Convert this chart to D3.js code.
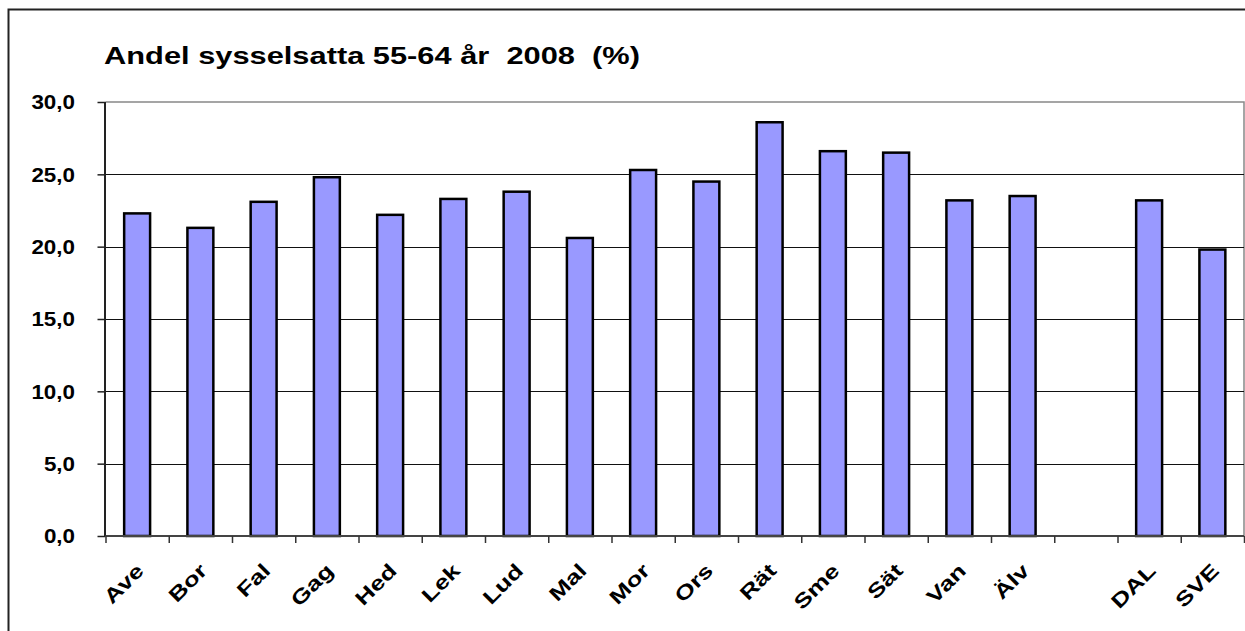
<!DOCTYPE html>
<html>
<head>
<meta charset="utf-8">
<script src="https://cdn.jsdelivr.net/npm/d3@7"></script>
<style>
  html, body { margin: 0; padding: 0; background: #fff; }
  svg { display: block; }
  text { font-family: "Liberation Sans", Arial, sans-serif; fill: #000; }
</style>
</head>
<body>
<svg id="chart" width="1245" height="631"></svg>
<script>
const categories = ["Ave","Bor","Fal","Gag","Hed","Lek","Lud","Mal","Mor","Ors","Rät","Sme","Sät","Van","Älv","","DAL","SVE"];
const values = [22.3,21.3,23.1,24.8,22.2,23.3,23.8,20.6,25.3,24.5,28.6,26.6,26.5,23.2,23.5,null,23.2,19.8];
const yTicks = [0,5,10,15,20,25,30];
const yTickLabels = ["0,0","5,0","10,0","15,0","20,0","25,0","30,0"];
const title = "Andel sysselsatta 55-64 år  2008  (%)";

const W = 1245, H = 631;
const plot = {left: 105.5, right: 1244, top: 102, bottom: 536};

const svg = d3.select("#chart");

// outer frame
svg.append("rect")
  .attr("x", 8.5).attr("y", 9.5)
  .attr("width", 1260).attr("height", 700)
  .attr("fill", "none").attr("stroke", "#222").attr("stroke-width", 2);

const x = d3.scaleBand().domain(categories).range([plot.left, plot.right]).padding(0);
const xIdx = d3.scaleLinear().domain([0, categories.length]).range([plot.left, plot.right]);
const y = d3.scaleLinear().domain([0, 30]).range([plot.bottom, plot.top]);

// plot area frame (top & right)
svg.append("path")
  .attr("d", `M${plot.left},${plot.top}H${plot.right}V${plot.bottom}`)
  .attr("fill", "none").attr("stroke", "#888").attr("stroke-width", 1.5);

// gridlines
svg.append("g")
  .selectAll("line")
  .data(yTicks.filter(t => t > 0 && t < 30))
  .join("line")
  .attr("x1", plot.left).attr("x2", plot.right)
  .attr("y1", d => Math.round(y(d)) + 0.5).attr("y2", d => Math.round(y(d)) + 0.5)
  .attr("stroke", "#111").attr("stroke-width", 1.2);

// bars
const barW = x.bandwidth() * 0.41;
svg.append("g")
  .selectAll("rect")
  .data(categories.map((c, i) => ({c, v: values[i]})).filter(d => d.v != null))
  .join("rect")
  .attr("x", d => x(d.c) + (x.bandwidth() - barW) / 2)
  .attr("y", d => y(d.v))
  .attr("width", barW)
  .attr("height", d => y(0) - y(d.v))
  .attr("fill", "#9999FF")
  .attr("stroke", "#000")
  .attr("stroke-width", 2.5);

// y axis
const yAxis = d3.axisLeft(y)
  .tickValues(yTicks)
  .tickSize(8)
  .tickFormat((d, i) => "");
const gy = svg.append("g").attr("transform", `translate(${plot.left},0)`).call(yAxis);
gy.select(".domain").attr("stroke", "#222").attr("stroke-width", 2).attr("d", `M-0.5,${plot.top}V${plot.bottom}`);
gy.selectAll(".tick line").attr("stroke", "#222").attr("stroke-width", 1.5);

svg.append("g")
  .selectAll("text")
  .data(yTicks)
  .join("text")
  .attr("transform", d => `translate(75,${y(d)}) scale(1.12,1)`)
  .attr("text-anchor", "end")
  .attr("dy", "0.36em")
  .attr("font-size", 20)
  .attr("font-weight", "bold")
  .text((d, i) => yTickLabels[i]);

// x axis with ticks on band boundaries
const xAxis = d3.axisBottom(xIdx)
  .tickValues(d3.range(0, categories.length + 1))
  .tickSize(7)
  .tickFormat("");
const gx = svg.append("g").attr("transform", `translate(0,${plot.bottom})`).call(xAxis);
gx.select(".domain").attr("stroke", "#444").attr("stroke-width", 2).attr("d", `M${plot.left},0H${plot.right}`);
gx.selectAll(".tick line").attr("stroke", "#333").attr("stroke-width", 1.5);

// x labels
svg.append("g")
  .selectAll("text")
  .data(categories)
  .join("text")
  .attr("transform", d => `translate(${x(d) + x.bandwidth() / 2 + 3},567) rotate(-45) scale(1.3,1)`)
  .attr("text-anchor", "end")
  .attr("dy", "0.35em")
  .attr("font-size", 20)
  .attr("font-weight", "bold")
  .text(d => d);

// title
svg.append("text")
  .attr("x", 104).attr("y", 64)
  .attr("font-size", 24)
  .attr("font-weight", "bold")
  .attr("textLength", 536)
  .attr("lengthAdjust", "spacingAndGlyphs")
  .style("white-space", "pre")
  .text(title);
</script>
</body>
</html>
